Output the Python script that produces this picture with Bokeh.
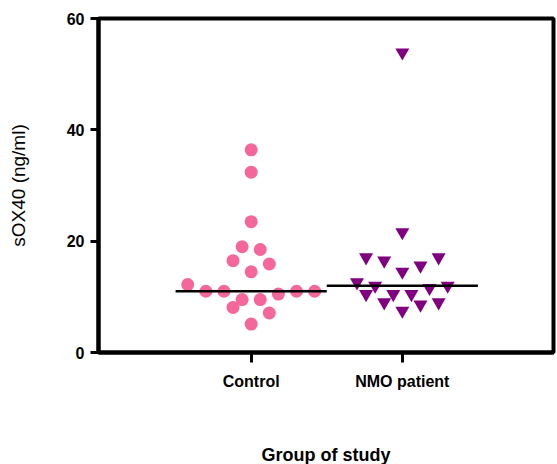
import numpy as np
from bokeh.plotting import figure
from bokeh.models import FixedTicker, ColumnDataSource, Range1d
from bokeh.embed import file_html
from bokeh.resources import INLINE

# ---- data ----
categories = ["Control", "NMO patient"]
control_values = [36.4, 32.4, 23.5, 19.0, 18.5, 16.5, 15.9, 14.5, 12.2, 11.0,
                  11.0, 11.0, 11.0, 10.5, 9.5, 9.5, 8.1, 7.1, 5.1]
control_slots = [0, 0, 0, -1, 1, -2, 2, 0, -7, -5, -3, 5, 7, 3, -1, 1, -2, 2, 0]
nmo_values = [53.9, 21.6, 17.1, 16.5, 17.1, 15.6, 14.5, 12.6, 12.0, 12.0,
              11.6, 10.5, 10.5, 10.5, 9.0, 9.0, 8.6, 7.5]
nmo_slots = [0, 0, -4, -2, 4, 2, 0, -5, -3, 5, 3, -4, -1, 1, -2, 4, 2, 0]
y_ticks = [0, 20, 40, 60]

SLOT = 0.06  # horizontal swarm step in category units
cat_pos = {c: i + 1 for i, c in enumerate(categories)}

p = figure(frame_width=455, frame_height=334,
           min_border_left=98, min_border_top=18, min_border_right=4,
           min_border_bottom=112,
           x_range=Range1d(-0.01, 3.0), y_range=Range1d(0, 60),
           output_backend="svg", toolbar_location=None,
           background_fill_color="white", border_fill_color="white")

p.xgrid.visible = False
p.ygrid.visible = False
p.outline_line_color = "black"
p.outline_line_width = 4

src_c = ColumnDataSource(dict(
    x=[cat_pos["Control"] + s * SLOT for s in control_slots], y=control_values))
src_n = ColumnDataSource(dict(
    x=[cat_pos["NMO patient"] + s * SLOT for s in nmo_slots], y=nmo_values))

p.scatter("x", "y", source=src_c, marker="circle", size=13,
          fill_color="#F5669A", line_color=None)
p.scatter("x", "y", source=src_n, marker="inverted_triangle", size=14,
          fill_color="#800080", line_color=None)

# median lines
meds = [float(np.median(control_values)), float(np.median(nmo_values))]
xs = [cat_pos[c] for c in categories]
p.segment(x0=[x - 0.5 for x in xs], x1=[x + 0.5 for x in xs],
          y0=meds, y1=meds, line_color="black", line_width=2.5)

# x axis
p.xaxis.ticker = FixedTicker(ticks=xs)
p.xaxis.major_label_overrides = {x: c for x, c in zip(xs, categories)}
p.xaxis.minor_tick_line_color = None
p.xaxis.major_tick_in = 0
p.xaxis.major_tick_out = 10
p.xaxis.major_tick_line_width = 3
p.xaxis.axis_line_width = 4
p.xaxis.major_label_text_font = "Liberation Sans"
p.xaxis.major_label_text_font_style = "bold"
p.xaxis.major_label_text_font_size = "16px"
p.xaxis.major_label_text_color = "black"
p.xaxis.major_label_standoff = 10
p.xaxis.axis_label = "Group of study"
p.xaxis.axis_label_text_font = "Liberation Sans"
p.xaxis.axis_label_text_font_style = "bold"
p.xaxis.axis_label_text_font_size = "18px"
p.xaxis.axis_label_text_color = "black"
p.xaxis.axis_label_standoff = 52

# y axis
p.yaxis.ticker = FixedTicker(ticks=y_ticks)
p.yaxis.minor_tick_line_color = None
p.yaxis.major_tick_in = 0
p.yaxis.major_tick_out = 8
p.yaxis.major_tick_line_width = 3
p.yaxis.axis_line_width = 4
p.yaxis.major_label_text_font = "Liberation Sans"
p.yaxis.major_label_text_font_style = "bold"
p.yaxis.major_label_text_font_size = "16px"
p.yaxis.major_label_text_color = "black"
p.yaxis.major_label_standoff = 6
p.yaxis.axis_label = "sOX40 (ng/ml)"
p.yaxis.axis_label_text_font = "Liberation Sans"
p.yaxis.axis_label_text_font_style = "normal"
p.yaxis.axis_label_text_font_size = "19px"
p.yaxis.axis_label_text_color = "black"
p.yaxis.axis_label_standoff = 35

open("out.html", "w").write(file_html(p, INLINE))
